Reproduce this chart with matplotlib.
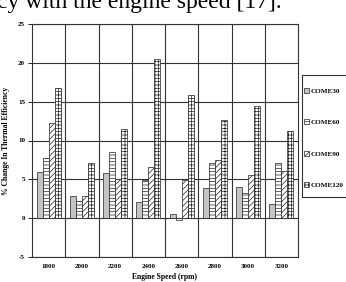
import numpy as np
import matplotlib
matplotlib.use('Agg')
import matplotlib.pyplot as plt
from matplotlib.patches import Patch, Rectangle

plt.rcParams['hatch.linewidth'] = 0.5

speeds = ['1800', '2000', '2200', '2400', '2600', '2800', '3000', '3200']
series_names = ['COME30', 'COME60', 'COME90', 'COME120']
come30 = [6.0, 2.8, 5.8, 2.1, 0.5, 3.9, 4.0, 1.8]
come60 = [7.8, 2.2, 8.5, 4.9, -0.3, 7.1, 3.3, 7.1]
come90 = [12.3, 2.9, 5.1, 6.6, 4.9, 7.5, 5.6, 6.1]
come120 = [16.7, 7.1, 11.5, 20.5, 15.8, 12.7, 14.4, 11.2]
yticks = [-5, 0, 5, 10, 15, 20, 25]

serif = 'Liberation Serif'
W, H = 346, 282
fig = plt.figure(figsize=(W / 100, H / 100), dpi=100)
ax = fig.add_axes([32 / W, 25 / H, 266 / W, 233 / H])

# clipped line of text from the scanned page above the chart
fig.text(-3 / W, 1 - 8 / H, 'cy with the engine speed [17].', fontsize=17,
         family=serif, va='baseline', ha='left')

x = np.arange(len(speeds))
w = 0.18
styles = [dict(facecolor='#c4c4c4', hatch=None),
          dict(facecolor='white', hatch='-----'),
          dict(facecolor='white', hatch='//////'),
          dict(facecolor='white', hatch='+++++')]
data = [come30, come60, come90, come120]
handles = []
for k, (vals, st) in enumerate(zip(data, styles)):
    ax.bar(x + (k - 1.5) * w, vals, w, color=st['facecolor'], hatch=st['hatch'],
           edgecolor='#222222', linewidth=0.5, zorder=3)
    handles.append(Patch(facecolor=st['facecolor'], hatch=st['hatch'],
                         edgecolor='#222222', linewidth=0.5, label=series_names[k]))

ax.set_xlim(-0.5, len(speeds) - 0.5)
ax.set_ylim(-5, 25)
ax.set_yticks(yticks)
ax.set_yticklabels([str(v) for v in yticks])
ax.set_xticks(x)
ax.set_xticklabels(speeds)
ax.set_xticks(np.arange(0.5, len(speeds) - 0.5, 1), minor=True)
ax.grid(axis='x', which='minor', color='#333333', linewidth=0.8, zorder=1)
ax.grid(axis='y', which='major', color='#333333', linewidth=0.8, zorder=1)
ax.tick_params(axis='x', which='both', length=0, pad=5)
ax.tick_params(axis='y', length=3, width=0.6, pad=2)
for lab in ax.get_xticklabels() + ax.get_yticklabels():
    lab.set_fontfamily(serif)
    lab.set_fontweight('bold')
    lab.set_fontsize(5)
for s in ax.spines.values():
    s.set_color('#333333')
    s.set_linewidth(0.8)

ax.set_xlabel('Engine Speed (rpm)', fontsize=5.5, family=serif, fontweight='bold', labelpad=3)
ax.set_ylabel('% Change In Thermal Efficiency', fontsize=5.5, family=serif,
              fontweight='bold', labelpad=6)

# legend box (runs off the right edge like the scan)
fig.patches.append(Rectangle((302 / W, 1 - 197 / H), 60 / W, 122 / H,
                             transform=fig.transFigure, fill=False,
                             edgecolor='#333333', linewidth=0.8))
fig.legend(handles=handles, loc='upper left', bbox_to_anchor=(304 / W, 1 - 88 / H),
           prop={'family': serif, 'weight': 'bold', 'size': 5.1},
           handlelength=0.7, handleheight=0.7, handletextpad=0.25,
           labelspacing=3.6, borderpad=0, borderaxespad=0, frameon=False)

fig.savefig('out.png', dpi=100)
